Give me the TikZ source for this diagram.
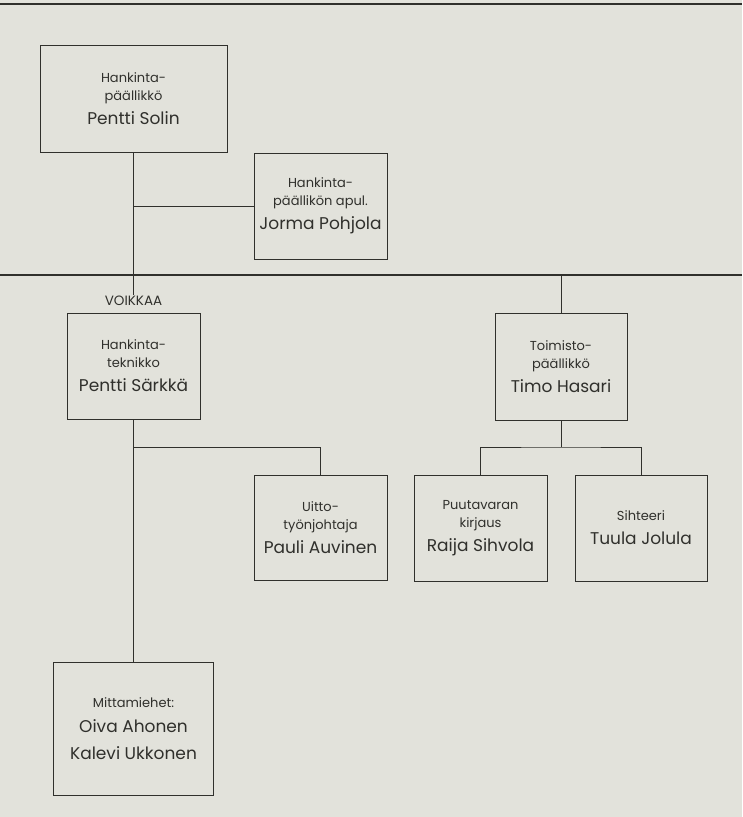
\documentclass[tikz,border=0pt]{standalone}
\usepackage{fontspec}
\setmainfont{Poppins}
\usepackage{xcolor}
\usepackage{tikz}
\definecolor{paper}{RGB}{226,226,219}
\definecolor{ink}{RGB}{48,48,44}
\newcommand\role{\fontsize{13}{18}\selectfont}
\newcommand\who[1]{{\fontsize{17}{24}\selectfont #1}}
\tikzstyle{post}=[draw=ink,line width=1pt,align=center,inner sep=0pt,font=\role,text=ink]
\tikzstyle{link}=[draw=ink,line width=1pt]
\tikzstyle{rail}=[draw=ink,line width=1.6pt]

\begin{document}
\begin{tikzpicture}[x=1pt,y=-1pt]
	\fill[paper] (0,0) rectangle (742,817);
	\useasboundingbox (0,0) rectangle (742,817);
	\coordinate (top-w) at (0,4);
	\coordinate (top-e) at (742,4);
	\coordinate (rail-w) at (0,275);
	\coordinate (rail-e) at (742,275);
	\coordinate (fork1) at (133.5,447);
	\coordinate (fork2) at (561,447);
	\node[post,minimum width=187pt,minimum height=107pt] (solin) at (133.5,98.5) {Hankinta-\\päällikkö\\[6pt]\who{Pentti Solin}};
	\node[post,minimum width=133pt,minimum height=106pt] (pohjola) at (320.5,206) {Hankinta-\\päällikön apul.\\[6pt]\who{Jorma Pohjola}};
	\node[text=ink,font=\fontsize{13.5}{16}\selectfont,inner sep=1pt] (voikkaa) at (133.5,301) {VOIKKAA};
	\node[post,minimum width=133pt,minimum height=106pt] (sarkka) at (133.5,366) {Hankinta-\\teknikko\\[6pt]\who{Pentti Särkkä}};
	\node[post,minimum width=132pt,minimum height=107pt] (hasari) at (561,366.5) {Toimisto-\\päällikkö\\[6pt]\who{Timo Hasari}};
	\node[post,minimum width=133pt,minimum height=105pt] (auvinen) at (320.5,527.5) {Uitto-\\työnjohtaja\\[6pt]\who{Pauli Auvinen}};
	\node[post,minimum width=133pt,minimum height=106pt] (sihvola) at (480.5,528) {Puutavaran\\kirjaus\\[6pt]\who{Raija Sihvola}};
	\node[post,minimum width=132pt,minimum height=106pt] (jolula) at (641,528) {Sihteeri\\[6pt]\who{Tuula Jolula}};
	\node[post,minimum width=160pt,minimum height=133pt] (mitta) at (133.5,728.5) {Mittamiehet:\\[7pt]\who{Oiva Ahonen}\\[9pt]\who{Kalevi Ukkonen}};
	\draw[rail,line width=2.2pt] (top-w) -- (top-e);
	\draw[rail] (rail-w) -- (rail-e);
	\draw[link] (solin.south) -- (voikkaa.north);
	\draw[link] (solin.south |- pohjola.west) -- (pohjola.west);
	\draw[link] (hasari.north |- rail-e) -- (hasari.north);
	\draw[link] (sarkka.south) -- (mitta.north);
	\draw[link] (fork1) -| (auvinen.north);
	\draw[link] (hasari.south) -- (fork2);
	\draw[link] (sihvola.north) |- (fork2) -| (jolula.north);
\end{tikzpicture}
\end{document}
